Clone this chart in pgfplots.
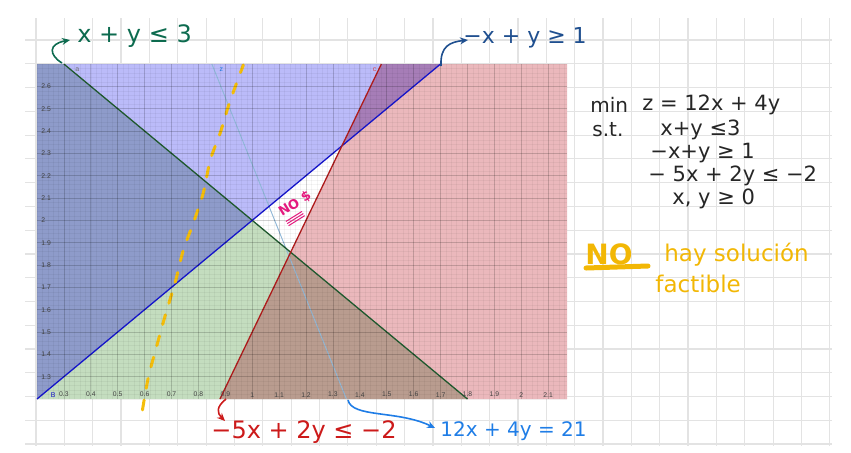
\documentclass[border=0pt]{standalone}
\usepackage{pgfplots}
\pgfplotsset{compat=1.18}
\usetikzlibrary{arrows.meta}
\usepackage{fontspec}
\setmainfont{Liberation Sans}
\newfontfamily\hand{DejaVu Sans}
\definecolor{cSlate}{HTML}{8E9BCA}
\definecolor{cLB}{HTML}{BBBBF9}
\definecolor{cPur}{HTML}{A67DB7}
\definecolor{cGreen}{HTML}{C4DDBF}
\definecolor{cBrown}{HTML}{B99C8F}
\definecolor{cPink}{HTML}{EBB8BC}
\definecolor{lGreen}{HTML}{1F5A2E}
\definecolor{lBlue}{HTML}{1515CC}
\definecolor{lRed}{HTML}{B01C1C}
\definecolor{lZ}{HTML}{8FB8D8}
\definecolor{cYel}{HTML}{F5BE0A}
\definecolor{tDG}{HTML}{0D6B4F}
\definecolor{tDB}{HTML}{1F4F8F}
\definecolor{tRed}{HTML}{CC1A1A}
\definecolor{tBB}{HTML}{1F7DE6}
\definecolor{tOr}{HTML}{F2B705}
\definecolor{tMag}{HTML}{E4197E}
\definecolor{paper}{HTML}{E3E3E3}
\begin{document}
\begin{tikzpicture}
\path[use as bounding box] (0,0) rectangle (425.5pt,-226pt);
\begin{scope}[x=0.5pt,y=-0.5pt]
  \foreach \k in {0,...,28} \draw[paper, line width=0.6pt] ({36+28.35*\k},18) -- ({36+28.35*\k},446);
  \foreach \k in {0,...,17} \draw[paper, line width=0.6pt] (25,{444-23.76*\k}) -- (832,{444-23.76*\k});
\end{scope}
\begin{axis}[
  at={(18.5pt,-199.5pt)}, anchor=south west,
  scale only axis, width=265pt, height=167.5pt,
  xmin=0.2, xmax=2.17, ymin=1.2, ymax=2.7,
  axis background/.style={fill=white},
  axis line style={draw=none},
  axis on top, clip=false,
  grid=both,
  xtick={0.3,0.4,0.5,0.6,0.7,0.8,0.9,1,1.1,1.2,1.3,1.4,1.5,1.6,1.7,1.8,1.9,2,2.1},
  xticklabels={0.3,0.4,0.5,0.6,0.7,0.8,0.9,1,1.1,1.2,1.3,1.4,1.5,1.6,1.7,1.8,1.9,2,2.1},
  ytick={1.3,1.4,1.5,1.6,1.7,1.8,1.9,2,2.1,2.2,2.3,2.4,2.5,2.6},
  yticklabels={1.3,1.4,1.5,1.6,1.7,1.8,1.9,2,2.1,2.2,2.3,2.4,2.5,2.6},
  minor xtick={0.2,0.22,...,2.17},
  minor ytick={1.2,1.22,...,2.7},
  major grid style={black, opacity=0.14, line width=0.4pt},
  minor grid style={black, opacity=0.045, line width=0.25pt},
  major tick length=0pt, minor tick length=0pt,
  /pgf/number format/assume math mode=true,
  tick label style={font=\fontsize{3.4}{3.8}\selectfont, text=black!75},
  xticklabel style={anchor=south, inner sep=0.8pt},
  yticklabel style={anchor=west, inner sep=2pt},
]
% regions
\addplot[fill=cSlate, draw=none] coordinates {(0.2,1.2) (0.2,2.7) (0.3,2.7) (1,2)} -- cycle;
\addplot[fill=cLB, draw=none] coordinates {(0.3,2.7) (1,2) (1.333333,2.333333) (1.48,2.7)} -- cycle;
\addplot[fill=cPur, draw=none] coordinates {(1.333333,2.333333) (1.48,2.7) (1.7,2.7)} -- cycle;
\addplot[fill=cGreen, draw=none] coordinates {(0.2,1.2) (1,2) (1.142857,1.857143) (0.88,1.2)} -- cycle;
\addplot[fill=cBrown, draw=none] coordinates {(0.88,1.2) (1.142857,1.857143) (1.8,1.2)} -- cycle;
\addplot[fill=cPink, draw=none] coordinates {(1.142857,1.857143) (1.333333,2.333333) (1.7,2.7) (2.17,2.7) (2.17,1.2) (1.8,1.2)} -- cycle;
% lines
\addplot[lZ, line width=0.45pt] coordinates {(0.85,2.7) (1.35,1.2)};
\addplot[lGreen, line width=0.65pt] coordinates {(0.3,2.7) (1.8,1.2)};
\addplot[lBlue, line width=0.65pt] coordinates {(0.2,1.2) (1.7,2.7)};
\addplot[lRed, line width=0.65pt] coordinates {(0.88,1.2) (1.48,2.7)};
% yellow hand-drawn dashed line
\addplot[cYel, smooth, line width=1.5pt, line cap=round, dash pattern=on 5pt off 6pt] coordinates {
(0.592,1.151) (0.614,1.298) (0.644,1.433) (0.677,1.576) (0.714,1.724) (0.744,1.867)
(0.781,1.988) (0.818,2.122) (0.844,2.270) (0.881,2.391) (0.915,2.525) (0.967,2.696)};
% small point labels
\node[font=\fontsize{3.5}{4}\selectfont, text=black!55] at (axis cs:0.35,2.675) {a};
\node[font=\fontsize{3.5}{4}\selectfont, text=tBB] at (axis cs:0.885,2.675) {z};
\node[font=\fontsize{3.5}{4}\selectfont, text=tRed!80] at (axis cs:1.455,2.675) {c};
\node[font=\fontsize{3.5}{4}\selectfont, text=lBlue] at (axis cs:0.26,1.218) {B};
\end{axis}
\begin{scope}[x=0.5pt,y=-0.5pt]
  % arrows
  \draw[tDG, line width=0.8pt, -{Stealth[length=4pt,width=3.5pt]}] (62,63) .. controls (49,55) and (48,44) .. (70,40);
  \draw[tDB, line width=0.8pt, -{Stealth[length=4pt,width=3.5pt]}] (441,66) .. controls (440,46) and (450,42) .. (468,40);
  \draw[tRed, line width=0.8pt, -{Stealth[length=4pt,width=3.5pt]}] (226,399) .. controls (216,407) and (217,413) .. (225,421);
  \draw[tBB, line width=0.8pt, -{Stealth[length=4pt,width=3.5pt]}] (348,400) .. controls (352,418) and (398,410) .. (435,428);
  % labels
  \node[anchor=west, text=tDG, font=\hand\fontsize{12}{12}\selectfont, inner sep=0] at (77,36) {x + y ≤ 3};
  \node[anchor=west, text=tDB, font=\hand\fontsize{11}{11}\selectfont, inner sep=0] at (463,38) {−x + y ≥ 1};
  \node[anchor=west, text=tRed, font=\hand\fontsize{12}{12}\selectfont, inner sep=0] at (211,432) {−5x + 2y ≤ −2};
  \node[anchor=west, text=tBB, font=\hand\fontsize{10}{10}\selectfont, inner sep=0] at (440,431) {12x + 4y = 21};
  % model
  \node[anchor=west, text=black!85, font=\hand\fontsize{10}{10}\selectfont, inner sep=0] at (590,105) {min};
  \node[anchor=west, text=black!85, font=\hand\fontsize{10.5}{10.5}\selectfont, inner sep=0] at (642,105) {z = 12x + 4y};
  \node[anchor=west, text=black!85, font=\hand\fontsize{10}{10}\selectfont, inner sep=0] at (592,130) {s.t.};
  \node[anchor=west, text=black!85, font=\hand\fontsize{10.5}{10.5}\selectfont, inner sep=0] at (660,130) {x+y ≤3};
  \node[anchor=west, text=black!85, font=\hand\fontsize{10.5}{10.5}\selectfont, inner sep=0] at (650,153) {−x+y ≥ 1};
  \node[anchor=west, text=black!85, font=\hand\fontsize{10.5}{10.5}\selectfont, inner sep=0] at (648,176) {− 5x + 2y ≤ −2};
  \node[anchor=west, text=black!85, font=\hand\fontsize{10.5}{10.5}\selectfont, inner sep=0] at (672,199) {x, y ≥ 0};
  % no feasible solution
  \node[anchor=west, text=tOr, font=\hand\bfseries\fontsize{14}{14}\selectfont, inner sep=0] at (585,254) {NO};
  \draw[tOr, line width=2.5pt, line cap=round] (586,268) -- (648,266);
  \node[anchor=west, text=tOr, font=\hand\fontsize{11.5}{11.5}\selectfont, inner sep=0] at (664,255) {hay solución};
  \node[anchor=west, text=tOr, font=\hand\fontsize{11.5}{11.5}\selectfont, inner sep=0] at (655,284) {factible};
  % NO $ in white triangle
  \begin{scope}[shift={(295,204)}, rotate=32]
    \node[rotate=32, text=tMag, font=\hand\bfseries\fontsize{6.5}{6.5}\selectfont, inner sep=0] at (0,0) {NO \$};
    \draw[tMag, line width=0.5pt] (-17,10) -- (2,10);
    \draw[tMag, line width=0.5pt] (-17,12.5) -- (2,12.5);
    \draw[tMag, line width=0.5pt] (-17,15) -- (2,15);
  \end{scope}
\end{scope}
\end{tikzpicture}
\end{document}
